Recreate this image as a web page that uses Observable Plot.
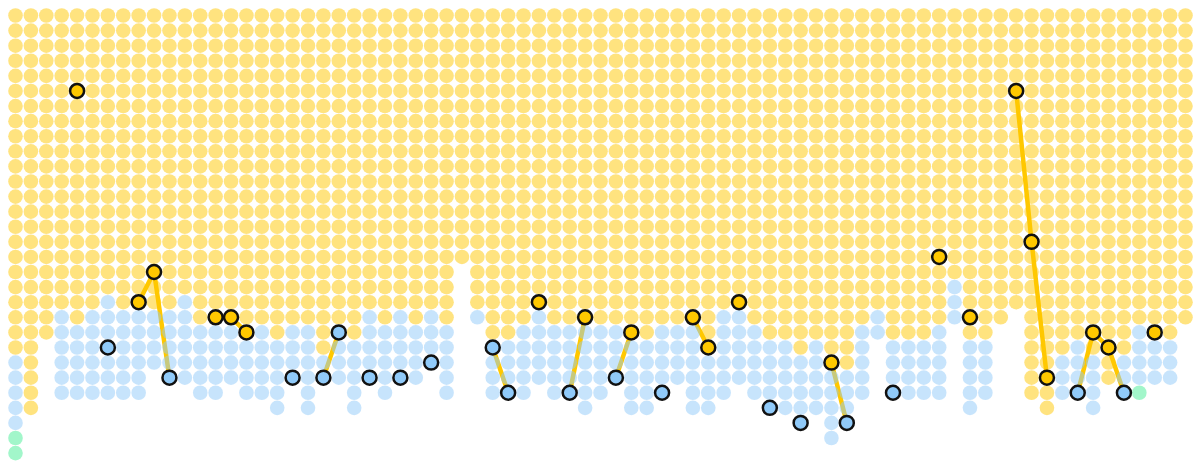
<!DOCTYPE html>
<html><head><meta charset="utf-8">
<script src="https://cdn.jsdelivr.net/npm/d3@7"></script>
<script src="https://cdn.jsdelivr.net/npm/@observablehq/plot@0.6"></script>
<style>html,body{margin:0;padding:0;background:#fff;} #chart svg{display:block}</style>
</head><body><div id="chart"></div>
<script>
// dots per column, stacked from the top: yellow, then blue, then green
const yellowCounts = [23,27,22,20,21,20,19,20,20,20,20,19,21,21,21,21,21,22,21,21,23,21,22,20,21,20,21,20,21,17,20,22,22,21,20,21,21,21,21,21,22,22,21,21,21,22,20,20,21,22,22,23,22,23,24,21,20,22,22,22,21,18,22,22,21,20,26,27,23,22,23,25,23,21,22,22,21];
const blueCounts   = [5,0,0,6,5,6,7,6,6,4,5,6,5,5,4,5,5,5,4,6,2,4,5,5,5,5,4,4,5,0,1,4,4,5,5,5,5,6,5,4,5,5,5,4,6,5,6,5,5,5,5,5,5,6,4,5,2,4,4,4,5,3,5,4,0,0,0,0,3,4,4,0,3,4,3,3,0];
const greenCounts  = [2,0,0,0,0,0,0,0,0,0,0,0,0,0,0,0,0,0,0,0,0,0,0,0,0,0,0,0,0,0,0,0,0,0,0,0,0,0,0,0,0,0,0,0,0,0,0,0,0,0,0,0,0,0,0,0,0,0,0,0,0,0,0,0,0,0,0,0,0,0,0,0,0,1,0,0,0];

// highlighted markers (column, row, colour group)
const hlColumn = [4,6,8,9,10,13,14,15,18,20,21,23,25,27,31,32,34,36,37,39,40,42,44,45,47,49,51,53,54,57,60,62,65,66,67,69,70,71,72,74];
const hlRow    = [5,22,19,17,24,20,20,21,24,24,21,24,24,23,22,25,19,25,20,24,21,25,20,22,19,26,27,23,27,25,16,20,5,15,24,25,21,22,25,21];
const hlGroup  = ["Y","B","Y","Y","B","Y","Y","Y","B","B","B","B","B","B","B","B","Y","B","Y","B","Y","B","Y","Y","Y","B","B","Y","B","B","Y","Y","Y","Y","Y","B","Y","Y","B","Y"];

const dots = [];
yellowCounts.forEach((n, c) => {
  const stack = [].concat(Array(n).fill("Y"), Array(blueCounts[c]).fill("B"), Array(greenCounts[c]).fill("G"));
  stack.forEach((g, r) => dots.push({col: c, row: r, group: g}));
});
const highlights = hlColumn.map((c, i) => ({col: c, row: hlRow[i], group: hlGroup[i]}));
let seg = 0;
highlights.forEach((d, i) => { if (i > 0 && d.col !== highlights[i - 1].col + 1) seg++; d.seg = seg; });

const chart = Plot.plot({
  width: 1200,
  height: 467,
  marginLeft: 15, marginRight: 15, marginTop: 15, marginBottom: 14.4,
  x: {domain: [0, 76], axis: null},
  y: {domain: [0, 29], reverse: true, axis: null},
  color: {type: "ordinal", domain: ["Y", "B", "G"], range: ["#ffc800", "#90caf9", "#45ee96"]},
  marks: [
    Plot.line(highlights, {x: "col", y: "row", z: "seg", stroke: "#ffc800", strokeWidth: 4.5}),
    Plot.dot(dots, {x: "col", y: "row", r: 7.3, fill: "group", fillOpacity: 0.5}),
    Plot.dot(highlights, {x: "col", y: "row", r: 7, fill: "group", stroke: "#111", strokeWidth: 2.5})
  ]
});
document.getElementById("chart").append(chart);
</script>
</body></html>
